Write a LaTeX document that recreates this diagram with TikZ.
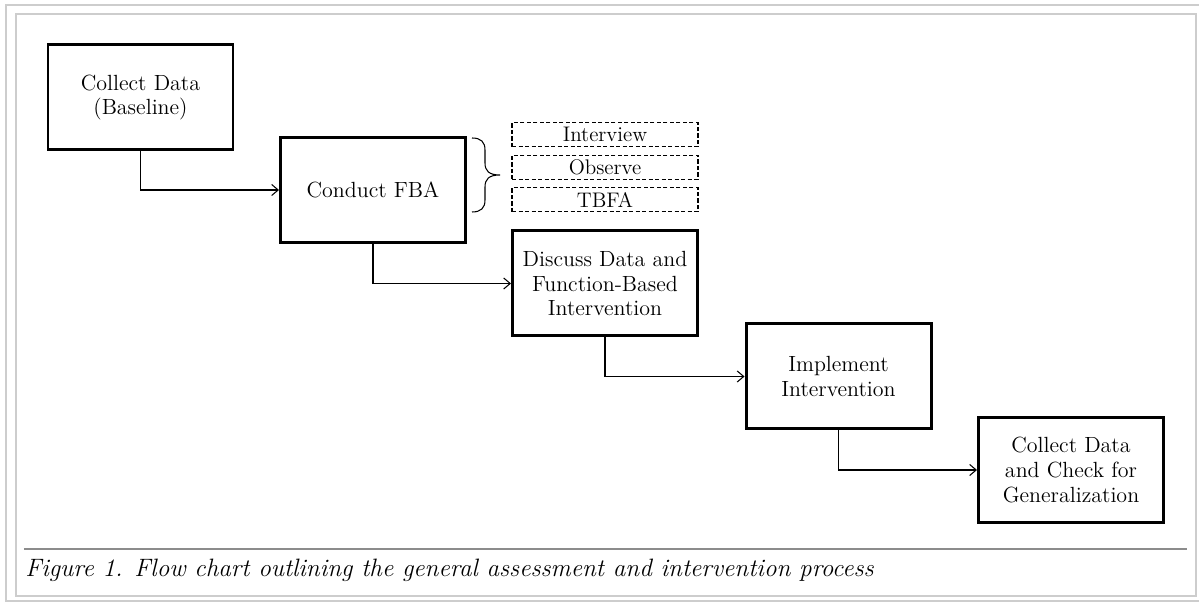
\documentclass[tikz,border=0pt]{standalone}
\usepackage{tikz}
\usetikzlibrary{positioning,arrows.meta,calc}
\definecolor{fcFrame}{RGB}{205,205,205}
\definecolor{fcRule}{RGB}{140,140,140}

\begin{document}
\begin{tikzpicture}[
  font=\fontsize{12.5}{14}\selectfont,
  stage/.style={draw, line width=1.7pt, minimum width=3.7cm, minimum height=2.1cm, inner sep=2pt, align=center},
  method/.style={draw, dash pattern=on 2.4pt off 1.3pt, line width=0.6pt, minimum width=3.72cm, minimum height=0.48cm, inner sep=0pt, font=\fontsize{12}{13}\selectfont},
  arr/.style={-{Straight Barb[length=1.3mm, width=2.2mm]}, line width=0.6pt},
]
\useasboundingbox (0,0) rectangle (23.98,12.1);
% frame
\draw[fcFrame, line width=1.4pt] (23.98,12.0) -- (0.12,12.0) -- (0.12,0.08) -- (23.98,0.08);
\draw[fcFrame, line width=1.4pt] (0.32,0.18) rectangle (23.92,11.82);
% stages
\node[stage] (collect) at (2.81,10.15) {Collect Data\\(Baseline)};
\node[stage] (fba) at (7.46,8.30) {Conduct FBA};
\node[stage] (discuss) at (12.10,6.43) {Discuss Data and\\Function-Based\\Intervention};
\node[stage] (implement) at (16.77,4.57) {Implement\\Intervention};
\node[stage] (check) at (21.42,2.70) {Collect Data\\and Check for\\Generalization};
% FBA methods
\node[method] (interview) at (12.10,9.406) {Interview};
\node[method] (observe) at (12.10,8.756) {Observe};
\node[method] (tbfa) at (12.10,8.106) {TBFA};
\draw[line width=0.6pt] (9.44,9.34) .. controls (9.62,9.34) and (9.70,9.26) .. (9.70,9.10)
  -- (9.70,8.84) .. controls (9.70,8.68) and (9.78,8.60) .. (10.0,8.60)
  .. controls (9.78,8.60) and (9.70,8.52) .. (9.70,8.36)
  -- (9.70,8.10) .. controls (9.70,7.94) and (9.62,7.86) .. (9.44,7.86);
% flow
\draw[arr] (collect.south) |- (fba.west);
\draw[arr] (fba.south) |- (discuss.west);
\draw[arr] (discuss.south) |- (implement.west);
\draw[arr] (implement.south) |- (check.west);
% caption
\draw[fcRule, line width=0.6pt] (0.48,1.12) -- (23.74,1.12);
\node[anchor=base west, inner sep=0pt, font=\fontsize{14.3}{16}\selectfont\itshape] (caption) at (0.5,0.56) {Figure 1. Flow chart outlining the general assessment and intervention process};
\end{tikzpicture}
\end{document}
